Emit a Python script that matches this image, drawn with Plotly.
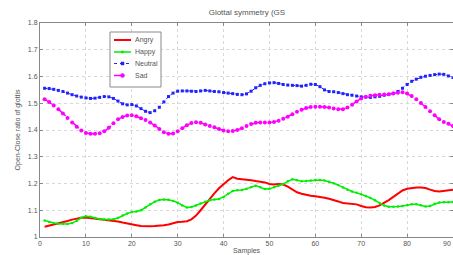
import plotly.graph_objects as go

samples = list(range(1, 91))

angry = [1.038, 1.042, 1.046, 1.050, 1.055, 1.060, 1.065, 1.069, 1.072, 1.073,
         1.071, 1.068, 1.066, 1.065, 1.063, 1.061, 1.058, 1.054, 1.050, 1.047,
         1.044, 1.041, 1.040, 1.040, 1.041, 1.042, 1.044, 1.047, 1.052, 1.056,
         1.057, 1.059, 1.066, 1.080, 1.100, 1.122, 1.143, 1.163, 1.182, 1.198,
         1.212, 1.224, 1.218, 1.216, 1.215, 1.212, 1.209, 1.207, 1.204, 1.198,
         1.196, 1.198, 1.196, 1.188, 1.176, 1.167, 1.162, 1.157, 1.154, 1.152,
         1.150, 1.147, 1.143, 1.139, 1.133, 1.127, 1.125, 1.125, 1.122, 1.116,
         1.111, 1.110, 1.112, 1.118, 1.127, 1.138, 1.150, 1.163, 1.174, 1.180,
         1.183, 1.185, 1.185, 1.183, 1.177, 1.172, 1.170, 1.172, 1.175, 1.177]

happy = [1.062, 1.056, 1.052, 1.050, 1.050, 1.049, 1.052, 1.060, 1.072, 1.078,
         1.076, 1.071, 1.067, 1.065, 1.065, 1.066, 1.071, 1.080, 1.088, 1.093,
         1.095, 1.100, 1.110, 1.122, 1.132, 1.138, 1.140, 1.139, 1.135, 1.128,
         1.118, 1.110, 1.112, 1.118, 1.125, 1.132, 1.137, 1.140, 1.142, 1.150,
         1.162, 1.172, 1.175, 1.176, 1.180, 1.186, 1.192, 1.186, 1.179, 1.180,
         1.186, 1.192, 1.198, 1.208, 1.216, 1.212, 1.208, 1.209, 1.211, 1.213,
         1.213, 1.211, 1.207, 1.201, 1.194, 1.185, 1.177, 1.170, 1.165, 1.160,
         1.153, 1.146, 1.137, 1.127, 1.118, 1.113, 1.113, 1.114, 1.116, 1.119,
         1.122, 1.122, 1.119, 1.114, 1.116, 1.124, 1.129, 1.130, 1.130, 1.131]

neutral = [1.556, 1.555, 1.552, 1.548, 1.544, 1.538, 1.532, 1.527, 1.523, 1.520,
           1.518, 1.519, 1.522, 1.525, 1.524, 1.518, 1.508, 1.498, 1.494, 1.495,
           1.490, 1.480, 1.470, 1.465, 1.472, 1.485, 1.505, 1.525, 1.538, 1.545,
           1.546, 1.546, 1.545, 1.544, 1.546, 1.548, 1.546, 1.544, 1.543, 1.540,
           1.538, 1.536, 1.533, 1.532, 1.535, 1.545, 1.558, 1.567, 1.573, 1.576,
           1.577, 1.574, 1.570, 1.568, 1.567, 1.566, 1.564, 1.567, 1.571, 1.570,
           1.562, 1.550, 1.544, 1.543, 1.540, 1.536, 1.532, 1.530, 1.527, 1.524,
           1.523, 1.522, 1.524, 1.526, 1.530, 1.533, 1.537, 1.544, 1.556, 1.570,
           1.582, 1.590, 1.597, 1.601, 1.604, 1.607, 1.609, 1.608, 1.602, 1.596]

sad = [1.515, 1.505, 1.492, 1.478, 1.462, 1.445, 1.428, 1.412, 1.398, 1.389,
       1.386, 1.386, 1.388, 1.395, 1.408, 1.425, 1.440, 1.449, 1.454, 1.455,
       1.451, 1.444, 1.437, 1.428, 1.417, 1.404, 1.392, 1.386, 1.387, 1.395,
       1.407, 1.418, 1.426, 1.429, 1.427, 1.421, 1.415, 1.410, 1.404, 1.398,
       1.395, 1.396, 1.400, 1.407, 1.415, 1.422, 1.427, 1.428, 1.428, 1.428,
       1.430, 1.435, 1.442, 1.450, 1.459, 1.468, 1.476, 1.482, 1.486, 1.487,
       1.487, 1.486, 1.484, 1.480, 1.478, 1.478, 1.484, 1.494, 1.507, 1.518,
       1.524, 1.528, 1.530, 1.532, 1.533, 1.534, 1.536, 1.539, 1.541, 1.536,
       1.527, 1.515, 1.501, 1.486, 1.470, 1.455, 1.440, 1.430, 1.423, 1.415]

series_names = ["Angry", "Happy", "Neutral", "Sad"]
x_ticks = [0, 10, 20, 30, 40, 50, 60, 70, 80, 90]
y_ticks = [1.0, 1.1, 1.2, 1.3, 1.4, 1.5, 1.6, 1.7, 1.8]
y_tick_labels = ["1", "1.1", "1.2", "1.3", "1.4", "1.5", "1.6", "1.7", "1.8"]

FONT = "Liberation Sans"
GRAY = "#555555"

styles = {
    "Angry": dict(mode="lines", line=dict(color="#ff0000", width=2), marker=None),
    "Happy": dict(mode="lines+markers", line=dict(color="#00ee00", width=1.5),
                  marker=dict(color="#00ee00", size=2.5, symbol="circle")),
    "Neutral": dict(mode="lines+markers", line=dict(color="#2222ff", width=1, dash="dot"),
                    marker=dict(color="#2222ff", size=3, symbol="square")),
    "Sad": dict(mode="lines+markers", line=dict(color="#ff00ff", width=1.5, dash="dash"),
                marker=dict(color="#ff00ff", size=4, symbol="circle")),
}
values = {"Angry": angry, "Happy": happy, "Neutral": neutral, "Sad": sad}

fig = go.Figure()
for name in series_names:
    st = styles[name]
    kw = dict(x=samples, y=values[name], name=name, mode=st["mode"], line=st["line"])
    if st["marker"] is not None:
        kw["marker"] = st["marker"]
    fig.add_trace(go.Scatter(**kw))

axis_common = dict(showline=True, linecolor="#888888", linewidth=1, mirror="ticks",
                   ticks="inside", ticklen=3, tickcolor="#888888",
                   showgrid=True, gridcolor="#d8d8d8", griddash="dot", gridwidth=1,
                   zeroline=False, tickfont=dict(family=FONT, size=7, color=GRAY))

fig.update_xaxes(range=[0, 90], tickvals=x_ticks, ticktext=[str(v) for v in x_ticks],
                 title=dict(text="Samples", font=dict(family=FONT, size=7, color=GRAY),
                            standoff=1),
                 **axis_common)
fig.update_yaxes(range=[1.0, 1.8], tickvals=y_ticks, ticktext=y_tick_labels,
                 title=dict(text="Open-Close ratio of glottis",
                            font=dict(family=FONT, size=7, color=GRAY), standoff=6),
                 **axis_common)

# Compact MATLAB-style legend box (paper coordinates of the plot area)
L, T, W, H = 40, 23, 413, 214
def px(xp):
    return (xp - L) / W
def py(yp):
    return 1 - (yp - T) / H

shapes = [dict(type="rect", xref="paper", yref="paper",
               x0=px(110), x1=px(161), y0=py(87), y1=py(32),
               fillcolor="white", line=dict(color="#888888", width=1), layer="above")]
annotations = []
entry_y = [40, 52, 63.5, 75.5]
for name, ey in zip(series_names, entry_y):
    st = styles[name]
    shapes.append(dict(type="line", xref="paper", yref="paper",
                       x0=px(114), x1=px(131), y0=py(ey), y1=py(ey),
                       line=dict(color=st["line"]["color"], width=st["line"]["width"],
                                 dash=st["line"].get("dash", "solid")),
                       layer="above"))
    if st["marker"] is not None:
        r = st["marker"]["size"] / 2
        shapes.append(dict(type="circle" if st["marker"]["symbol"] == "circle" else "rect",
                           xref="paper", yref="paper",
                           xsizemode="pixel", ysizemode="pixel",
                           xanchor=px(122.5), yanchor=py(ey),
                           x0=-r, x1=r, y0=-r, y1=r,
                           fillcolor=st["marker"]["color"],
                           line=dict(color=st["marker"]["color"], width=0.5),
                           layer="above"))
    annotations.append(dict(text=name, xref="paper", yref="paper",
                            x=px(133), y=py(ey), xanchor="left", yanchor="middle",
                            showarrow=False,
                            font=dict(family=FONT, size=7, color=GRAY)))

# Last x tick label sits at the right edge of the figure (plotly hides it otherwise)
annotations.append(dict(text=str(x_ticks[-1]), xref="x", yref="paper",
                        x=x_ticks[-1], y=0, xanchor="right", yanchor="top",
                        yshift=-1, showarrow=False,
                        font=dict(family=FONT, size=7, color=GRAY)))

fig.update_layout(
    width=453, height=255,
    margin=dict(l=40, r=0, t=23, b=18),
    paper_bgcolor="white", plot_bgcolor="white",
    title=dict(text="Glottal symmetry (GS", x=0.545, xanchor="center", y=0.953,
               yanchor="middle", font=dict(family=FONT, size=8, color=GRAY)),
    showlegend=False,
    shapes=shapes,
    annotations=annotations,
)

fig.write_html("out.html", config={"displayModeBar": False},
               post_script="document.body.style.margin='0';document.body.style.overflow='hidden';")
